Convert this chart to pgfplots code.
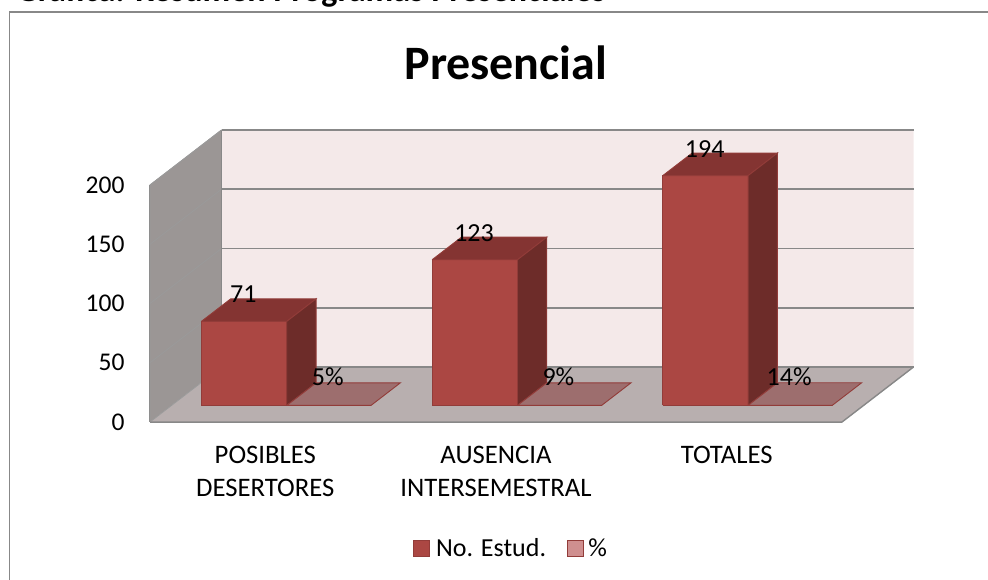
\documentclass[border=0pt]{standalone}
\usepackage{pgfplots}
\pgfplotsset{compat=1.18}
\usepackage{fontspec}
\setmainfont{Carlito}
\definecolor{barfront}{RGB}{171,71,67}
\definecolor{bartop}{RGB}{132,52,50}
\definecolor{barside}{RGB}{109,44,41}
\definecolor{baredge}{RGB}{146,60,57}
\definecolor{wallback}{RGB}{244,233,233}
\definecolor{wallleft}{RGB}{155,150,149}
\definecolor{wallfloor}{RGB}{184,175,175}
\definecolor{gridc}{RGB}{136,136,136}
\definecolor{pcttop}{RGB}{157,110,110}
\definecolor{pctleg}{RGB}{207,143,143}
% x0 x1 value: one 3D bar through the axis
\newcommand{\barthree}[3]{%
  \addplot3[fill=barfront,draw=baredge,line width=0.9pt,forget plot] coordinates {(#1,0.3,0) (#2,0.3,0) (#2,0.3,#3) (#1,0.3,#3) (#1,0.3,0)};
  \addplot3[fill=bartop,draw=baredge,line width=0.9pt,forget plot] coordinates {(#1,0.3,#3) (#2,0.3,#3) (#2,0.71,#3) (#1,0.71,#3) (#1,0.3,#3)};
  \addplot3[fill=barside,draw=baredge,line width=0.9pt,forget plot] coordinates {(#2,0.3,0) (#2,0.71,0) (#2,0.71,#3) (#2,0.3,#3) (#2,0.3,0)};
}
\newcommand{\flatbar}[3]{%
  \addplot3[fill=pcttop,draw=baredge,line width=0.9pt,forget plot] coordinates {(#1,0.3,#3) (#2,0.3,#3) (#2,0.71,#3) (#1,0.71,#3) (#1,0.3,#3)};
}
\newcommand{\gridz}[1]{%
  \addplot3[draw=gridc!85,line width=0.8pt,forget plot] coordinates {(0,0,#1) (0,1,#1)};
  \addplot3[draw=gridc,line width=1.7pt,forget plot] coordinates {(0,1,#1) (3,1,#1)};
}
\begin{document}
\begin{tikzpicture}[x=1pt,y=1pt]
\useasboundingbox (0,0) rectangle (988,580);
\begin{scope}
\clip (0,0) rectangle (988,580);
\node[anchor=base west,font=\fontsize{34}{38}\selectfont\bfseries,inner sep=0pt] at (16,578.5) {Gráfica: Resumen Programas Presenciales};
\end{scope}
\draw[gridc,line width=1.8pt] (9.5,0) -- (9.5,568) -- (988,568);
\begin{axis}[
  at={(150pt,158pt)},anchor=origin,
  x={(230.67pt,0pt)},y={(71.5pt,55pt)},z={(0pt,1.185pt)},
  xmin=0,xmax=3,ymin=0,ymax=1,zmin=0,zmax=200,
  axis lines=left,
  axis line style={-,draw=gridc,line width=1.6pt},
  y axis line style={line width=0.6pt,draw=gridc!85},
  clip=false,
  title={Presencial},
  title style={at={(axis description cs:0.466,1.151)},anchor=base,font=\fontsize{48}{54}\selectfont\bfseries,inner sep=0pt},
  ztick={0,50,100,150,200},
  ytick=\empty,
  xtick={0.5,1.5,2.5},
  xticklabels={{POSIBLES\\DESERTORES},{AUSENCIA\\INTERSEMESTRAL},{TOTALES}},
  major tick length=0pt,
  tick style={draw=none},
  xticklabel style={align=center,font=\fontsize{26.7}{32.5}\selectfont,anchor=north,yshift=-21pt},
  zticklabel style={font=\fontsize{25.5}{30}\selectfont,anchor=east,xshift=-22pt},
  /pgf/number format/assume math mode=true,
  legend columns=2,
  legend style={draw=none,fill=none,font=\fontsize{26}{30}\selectfont,at={(0.344,-0.433)},anchor=west,inner sep=0pt,
    /tikz/every even column/.append style={column sep=19pt}},
  legend cell align=left,
  legend image code/.code={\draw[#1] (0pt,-8pt) rectangle (16pt,8pt);},
]
\addlegendimage{fill=barfront,draw=baredge,line width=1.2pt}
\addlegendentry{\hspace{4pt}No. Estud.}
\addlegendimage{fill=pctleg,draw=baredge,line width=1.2pt}
\addlegendentry{\hspace{2pt}\%}
% walls
\addplot3[fill=wallback,draw=none,forget plot] coordinates {(0,1,0) (3,1,0) (3,1,200) (0,1,200) (0,1,0)};
\addplot3[fill=wallleft,draw=none,forget plot] coordinates {(0,0,0) (0,1,0) (0,1,200) (0,0,200) (0,0,0)};
\addplot3[fill=wallfloor,draw=none,forget plot] coordinates {(0,0,0) (3,0,0) (3,1,0) (0,1,0) (0,0,0)};
\gridz{0}\gridz{50}\gridz{100}\gridz{150}\gridz{200}
\addplot3[draw=gridc,line width=0.8pt,forget plot] coordinates {(0,1,0) (0,1,200)};
\addplot3[draw=gridc,line width=1.4pt,forget plot] coordinates {(0,0,0) (3,0,0) (3,1,0)};
\addplot3[draw=gridc!85,line width=0.9pt,forget plot] coordinates {(0,0,0) (0,0,200) (0,1,200)};
% series
\barthree{0.13}{0.5}{71}
\flatbar{0.5}{0.865}{0.05}
\barthree{1.13}{1.5}{123}
\flatbar{1.5}{1.865}{0.09}
\barthree{2.13}{2.5}{194}
\flatbar{2.5}{2.865}{0.14}
% labels
\addplot3[draw=none,mark=none,forget plot,nodes near coords,point meta=explicit symbolic,
  every node near coord/.style={font=\fontsize{26}{30}\selectfont,anchor=base,inner sep=0pt,xshift=-15pt,yshift=7.5pt}]
  coordinates {(0.315,0.5,71)[71] (1.315,0.5,123)[123] (2.315,0.5,194)[194]};
\addplot3[draw=none,mark=none,forget plot,nodes near coords,point meta=explicit symbolic,
  every node near coord/.style={font=\fontsize{26}{30}\selectfont,anchor=base,inner sep=0pt,xshift=-16pt,yshift=9pt}]
  coordinates {(0.685,0.5,0.05)[5\%] (1.685,0.5,0.09)[9\%] (2.685,0.5,0.14)[14\%]};
\end{axis}
\end{tikzpicture}
\end{document}
